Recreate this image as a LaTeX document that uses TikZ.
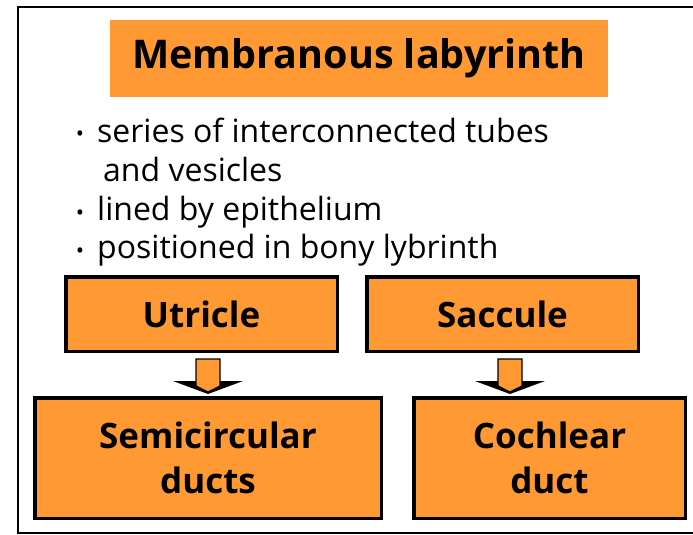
\documentclass[tikz,border=0pt]{standalone}
\usepackage{fontspec}
\setmainfont{Open Sans}
\usetikzlibrary{positioning,calc}
\definecolor{labyorange}{RGB}{255,153,51}
\tikzset{
    frame/.style={draw=black,line width=2.5pt},
    titlebox/.style={rectangle,fill=labyorange,minimum width=498pt,minimum height=77pt,inner sep=0pt,font=\fontsize{39.5}{44}\selectfont\bfseries},
    partbox/.style={rectangle,draw=black,line width=3.5pt,fill=labyorange,inner sep=0pt,align=center,font=\fontsize{35}{45}\selectfont\bfseries},
    item/.style={anchor=base west,inner sep=0pt,align=left,font=\fontsize{32}{39}\selectfont},
    dot/.style={anchor=base,inner sep=0pt,font=\fontsize{22}{22}\selectfont},
    headfill/.style={fill=black},
    shaftfill/.style={fill=labyorange,draw=black,line width=1.2pt,line join=miter},
}
\begin{document}
\begin{tikzpicture}[x=1pt,y=-1pt]
\useasboundingbox (0,0) rectangle (693,535);
\draw[frame] (18,7) rectangle (720,533);

% title
\node[titlebox] (title) at (359,58.5) {Membranous labyrinth};

% bullet list
\node[item] (b1) at (97,181) {series of interconnected tubes\\\hspace{6pt}and vesicles};
\node[item] (b2) at (97,220) {lined by epithelium};
\node[item] (b3) at (97,258) {positioned in bony lybrinth};
\foreach \y in {141,220,258}
    \node[dot] at (80,\y) {\textbullet};

% boxes
\node[partbox,minimum width=271.5pt,minimum height=74.5pt] (utricle) at (201.5,314) {Utricle};
\node[partbox,minimum width=271.5pt,minimum height=74.5pt] (saccule) at (502.5,314) {Saccule};
\node[partbox,minimum width=346.5pt,minimum height=120.5pt] (semi) at (208,458) {Semicircular\\ducts};
\node[partbox,minimum width=271.5pt,minimum height=120.5pt] (cochlear) at (549.5,458) {Cochlear\\duct};

% block arrows
\coordinate (a1) at ($(utricle.south -| semi.north)+(0,6)$);
\coordinate (a2) at ($(saccule.south)+(7.5,6)$);
\foreach \a in {a1,a2} {
    \fill[headfill] ($(\a)+(-35,22)$) -- ($(\a)+(35,22)$) -- ($(\a)+(0,35)$) -- cycle;
    \filldraw[shaftfill] ($(\a)+(-12,0)$) -- ($(\a)+(12,0)$) -- ($(\a)+(12,27)$) -- ($(\a)+(0,33)$) -- ($(\a)+(-12,27)$) -- cycle;
}
\end{tikzpicture}
\end{document}
